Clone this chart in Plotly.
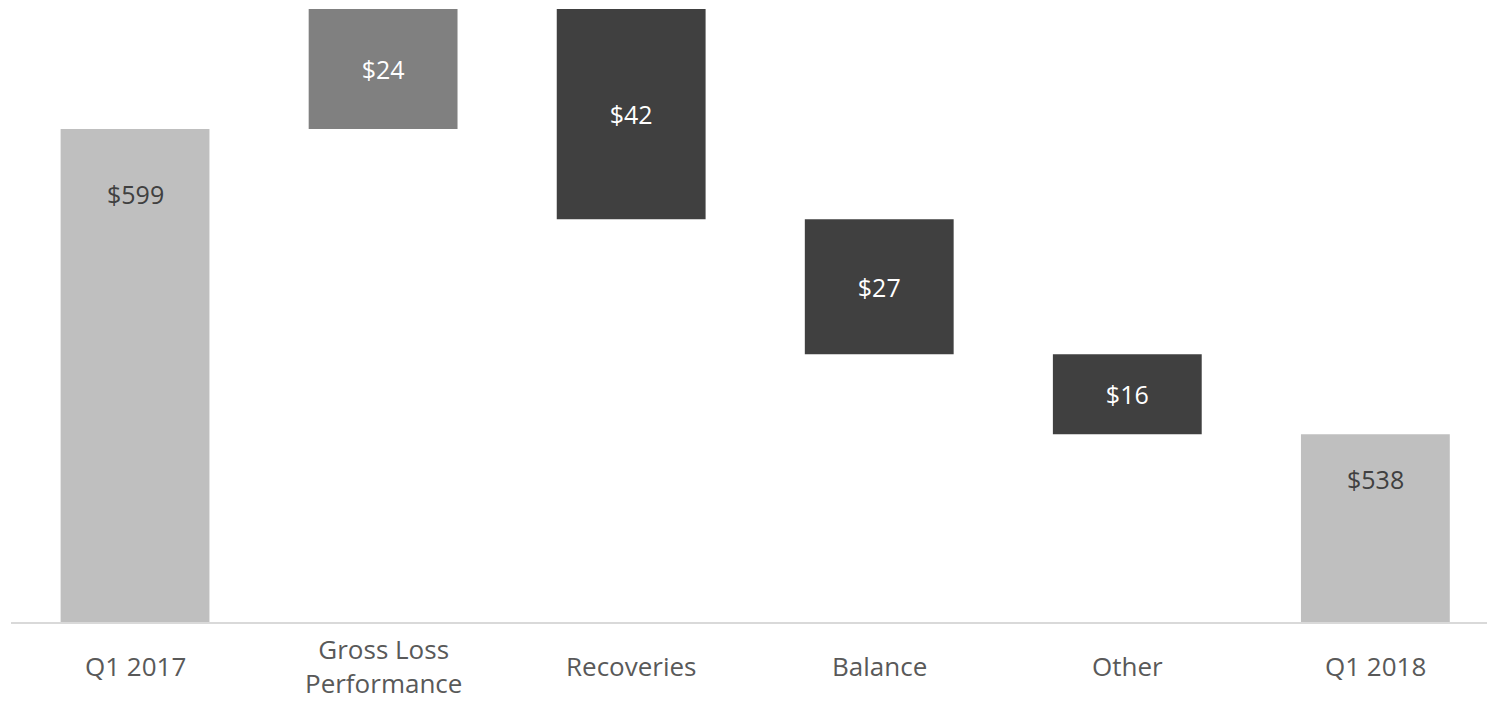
import plotly.graph_objects as go

categories = ["Q1 2017", "Gross Loss Performance", "Recoveries", "Balance", "Other", "Q1 2018"]
tick_labels = ["Q1 2017", "Gross Loss<br>Performance", "Recoveries", "Balance", "Other", "Q1 2018"]
values = [599, 24, -42, -27, -16, 538]
measures = ["absolute", "relative", "relative", "relative", "relative", "total"]
labels = ["$599", "$24", "$42", "$27", "$16", "$538"]

FONT = "Open Sans"
LABEL_SIZE = 25
TICK_SIZE = 26

delta_labels = [l if m == "relative" else "" for l, m in zip(labels, measures)]

fig = go.Figure()
fig.add_trace(go.Waterfall(
    x=categories,
    y=values,
    measure=measures,
    base=0,
    width=0.6,
    text=delta_labels,
    textposition="inside",
    insidetextanchor="middle",
    textfont=dict(family=FONT, size=LABEL_SIZE, color="white"),
    constraintext="none",
    increasing=dict(marker=dict(color="#808080")),
    decreasing=dict(marker=dict(color="#404040")),
    totals=dict(marker=dict(color="#BFBFBF")),
    connector=dict(visible=False),
    hoverinfo="skip",
))

# total labels near the top of the total bars
for cat, v, m, lab in zip(categories, values, measures, labels):
    if m != "relative":
        fig.add_annotation(x=cat, y=v, yref="y", text=lab, showarrow=False,
                           yanchor="middle", yshift=-65 if m == "absolute" else -45,
                           font=dict(family=FONT, size=LABEL_SIZE, color="#404040"))

# category labels, vertically centred below the axis
for cat, tl in zip(categories, tick_labels):
    fig.add_annotation(x=cat, y=0, yref="paper", text=tl, showarrow=False,
                       yanchor="middle", yshift=-44,
                       font=dict(family=FONT, size=TICK_SIZE, color="#595959"))

fig.update_layout(
    width=1487, height=702,
    margin=dict(l=11, r=0, t=9, b=80),
    paper_bgcolor="white", plot_bgcolor="white",
    showlegend=False,
    xaxis=dict(range=[-0.5, 5.45], showgrid=False, showline=True, linecolor="#D9D9D9", linewidth=2,
               ticks="", showticklabels=False),
    yaxis=dict(range=[500.5, 623.0], visible=False, showgrid=False),
)

fig.write_html("out.html")
